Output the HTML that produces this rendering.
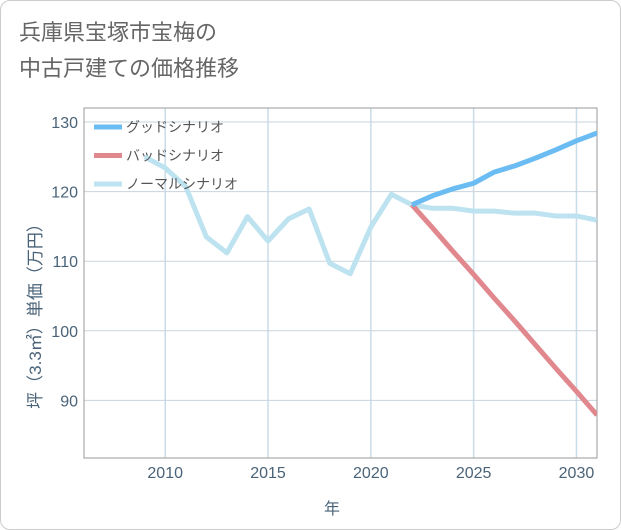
<!DOCTYPE html>
<html><head><meta charset="utf-8"><style>
body{margin:0;background:#fff;}
#wrap{position:relative;width:619px;height:528px;border:1px solid #ccc;border-radius:10px;background:#fff;overflow:hidden;font-family:"Liberation Sans","Noto Sans CJK JP",sans-serif;}
#title{position:absolute;left:18px;top:14px;font-size:22px;line-height:36px;color:#666;}
svg text{font-family:"Liberation Sans","Noto Sans CJK JP",sans-serif;}
</style></head><body>
<div id="wrap">
<div id="title">兵庫県宝塚市宝梅の<br>中古戸建ての価格推移</div>
<svg id="chart" width="621" height="530" style="position:absolute;left:-1px;top:-1px"></svg>
</div>
<script>
const normalYears=[2009,2010,2011,2012,2013,2014,2015,2016,2017,2018,2019,2020,2021,2022,2023,2024,2025,2026,2027,2028,2029,2030,2031];
const normalValues=[125.0,123.4,120.7,113.5,111.2,116.4,112.9,116.1,117.5,109.7,108.2,114.9,119.6,118.1,117.6,117.6,117.2,117.2,116.9,116.9,116.5,116.5,115.9];
const goodYears=[2022,2023,2024,2025,2026,2027,2028,2029,2030,2031];
const goodValues=[118.1,119.4,120.4,121.2,122.8,123.7,124.8,126.0,127.3,128.4];
const badYears=[2022,2023,2024,2025,2026,2027,2028,2029,2030,2031];
const badValues=[118.1,114.8,111.4,108.1,104.7,101.4,98.0,94.6,91.3,87.9];
const xTicks=[2010,2015,2020,2025,2030];
const yTicks=[90,100,110,120,130];
const legendLabels=["グッドシナリオ","バッドシナリオ","ノーマルシナリオ"];
const legendColors=["#6bbcf2","#e0888e","#bde2f0"];

const L=84,R=597,T=108,B=458;
const x0=2006.05,x1=2031;
const X=v=>L+(v-x0)/(x1-x0)*(R-L);
const Y=v=>122+(130-v)*6.96;
const svg=document.getElementById('chart');
const NS='http://www.w3.org/2000/svg';
function mk(t,a){const e=document.createElementNS(NS,t);for(const k in a)e.setAttribute(k,a[k]);svg.appendChild(e);return e;}
xTicks.forEach(t=>{
  const l=mk('line',{x1:X(t),x2:X(t),y1:T,y2:B,stroke:'#c9dde8','stroke-width':1.5});
  
  
  const tx=mk('text',{x:X(t),y:478,'text-anchor':'middle','font-size':16,fill:'#4a6378'});
  tx.textContent=t;
  
  
});
yTicks.forEach(t=>{
  const l=mk('line',{x1:L,x2:R,y1:Y(t),y2:Y(t),stroke:'#c9d3de','stroke-width':1});
  
  
  const tx=mk('text',{x:78,y:Y(t)+6,'text-anchor':'end','font-size':16,fill:'#4a6378'});
  tx.textContent=t;
  
  
});
const box=mk('rect',{x:L,y:T,width:R-L,height:B-T,fill:'none',stroke:'#999','stroke-width':1});


const clip=mk('clipPath',{id:'cp'});const cr=document.createElementNS(NS,'rect');
cr.setAttribute('x',L);cr.setAttribute('y',T);cr.setAttribute('width',R-L);cr.setAttribute('height',B-T);clip.appendChild(cr);
function series(xs,vs,col,name){
  const p=mk('polyline',{points:xs.map((y,i)=>X(y)+','+Y(vs[i])).join(' '),fill:'none',stroke:col,'stroke-width':5,'stroke-linejoin':'round','clip-path':'url(#cp)'});
  
  
}
series(normalYears,normalValues,legendColors[2],'normal-scenario-line');
series(badYears,badValues,legendColors[1],'bad-scenario-line');
series(goodYears,goodValues,legendColors[0],'good-scenario-line');
legendLabels.forEach((s,i)=>{
  const y=127+i*28.5;
  const l=mk('line',{x1:94,x2:122,y1:y,y2:y,stroke:legendColors[i],'stroke-width':5});
  
  
  const t=mk('text',{x:126,y:y+5,'font-size':14,fill:'#555'});
  t.textContent=s;
  
  
});
const xt=mk('text',{x:332,y:514,'text-anchor':'middle','font-size':16,fill:'#4a6378'});
xt.textContent='年';


const yt=mk('text',{x:0,y:0,'text-anchor':'middle','font-size':17,fill:'#4a6378',transform:'translate(41,312) rotate(-90)'});
yt.textContent='坪（3.3㎡）単価（万円）';


</script>
</body></html>
